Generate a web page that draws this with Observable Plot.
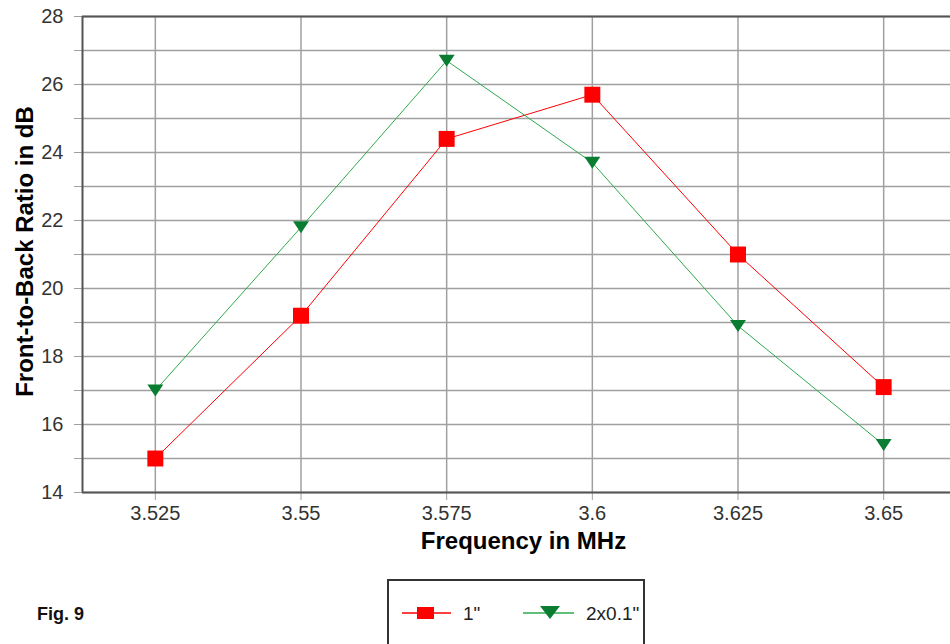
<!DOCTYPE html>
<html>
<head>
<meta charset="utf-8">
<script src="https://cdn.jsdelivr.net/npm/d3@7"></script>
<script src="https://cdn.jsdelivr.net/npm/@observablehq/plot@0.6"></script>
<style>
  html, body { margin: 0; padding: 0; background: #fff; overflow: hidden; }
  #wrap { width: 950px; height: 644px; position: relative; font-family: "Liberation Sans", Arial, sans-serif; }
  #below { position: relative; width: 950px; height: 84px; }
  #fig { position: absolute; left: 37px; top: 44px; font-weight: bold; font-size: 18px; color: #111; }
  #legend { position: absolute; left: 387px; top: 19px; width: 258px; height: 90px; border: 2px solid #333; box-sizing: border-box; }
</style>
</head>
<body>
<div id="wrap">
  <div id="chart"></div>
  <div id="below">
    <div id="fig">Fig. 9</div>
    <div id="legend"></div>
  </div>
</div>
<script>
const freqs = [3.525, 3.55, 3.575, 3.6, 3.625, 3.65];
const fb1 = [15.0, 19.2, 24.4, 25.7, 21.0, 17.1];   // 1"
const fb2 = [17.0, 21.8, 26.7, 23.7, 18.9, 15.4];   // 2x0.1"
const seriesNames = ['1"', '2x0.1"'];
const yTicks = d3.range(14, 29, 1);
const xDomain = [3.5125, 3.6625];
const yDomain = [14, 28];
const xTitle = "Frequency in MHz";
const yTitle = "Front-to-Back Ratio in dB";

const red = "#ff0000", greenLine = "#2eaa4c", greenMark = "#0a7d32";
const rows1 = freqs.map((f, i) => ({f, v: fb1[i]}));
const rows2 = freqs.map((f, i) => ({f, v: fb2[i]}));

const triDown = {
  draw(ctx, size) {
    const r = Math.sqrt(size / Math.PI);
    ctx.moveTo(-1.33 * r, -r);
    ctx.lineTo(1.33 * r, -r);
    ctx.lineTo(0, r);
    ctx.closePath();
  }
};

const chart = Plot.plot({
  width: 950,
  height: 560,
  marginLeft: 82,
  marginRight: 0,
  marginTop: 16,
  marginBottom: 68,
  style: {fontFamily: '"Liberation Sans", Arial, sans-serif', fontSize: "20px", background: "#fff", color: "#333"},
  x: {domain: xDomain, range: [82, 956]},
  y: {domain: yDomain},
  marks: [
    Plot.gridY(yTicks, {stroke: "#a0a0a0", strokeOpacity: 1, strokeWidth: 1.5}),
    Plot.gridX(freqs, {stroke: "#a0a0a0", strokeOpacity: 1, strokeWidth: 1.5}),
    Plot.axisY(yTicks, {tickSize: 8, tickPadding: 11, stroke: "#a0a0a0", fill: "#333", fontSize: 20,
      tickFormat: d => d % 2 === 0 ? String(d) : "", label: null}),
    Plot.axisX(freqs, {tickSize: 8, tickPadding: 5, stroke: "#a0a0a0", fill: "#333", fontSize: 20,
      tickFormat: d => String(d), label: null}),
    Plot.ruleY([yDomain[1]], {stroke: "#555", strokeWidth: 2}),
    Plot.ruleY([yDomain[0]], {stroke: "#555", strokeWidth: 2}),
    Plot.ruleX([xDomain[0]], {stroke: "#555", strokeWidth: 2}),
    Plot.line(rows1, {x: "f", y: "v", stroke: red, strokeWidth: 1}),
    Plot.line(rows2, {x: "f", y: "v", stroke: greenLine, strokeWidth: 1}),
    Plot.dot(rows1, {x: "f", y: "v", symbol: "square", r: 9, fill: red, stroke: "none"}),
    Plot.dot(rows2, {x: "f", y: "v", symbol: triDown, r: 6, fill: greenMark, stroke: "none"}),
    Plot.text([xTitle], {frameAnchor: "bottom", textAnchor: "middle", lineAnchor: "middle", dx: 7, dy: 49,
      fontSize: 24, fontWeight: "bold", fill: "#000"}),
    Plot.text([yTitle], {frameAnchor: "left", textAnchor: "middle", lineAnchor: "middle", rotate: -90, dx: -57, dy: -3,
      fontSize: 24, fontWeight: "bold", fill: "#000"})
  ]
});
document.getElementById("chart").appendChild(chart);

// Legend
const lg = d3.select("#legend").append("svg").attr("width", 254).attr("height", 60)
  .style("position", "absolute").style("left", 0).style("top", 0)
  .style("font-family", '"Liberation Sans", Arial, sans-serif');
const e1 = lg.append("g").attr("transform", "translate(13,32)");
e1.append("line").attr("x1", 0).attr("x2", 49).attr("stroke", red).attr("stroke-width", 1.5);
e1.append("rect").attr("x", 15).attr("y", -6).attr("width", 17).attr("height", 12).attr("fill", red);
e1.append("text").attr("x", 61).attr("y", 7).attr("font-size", 19).attr("fill", "#222").text(seriesNames[0]);
const e2 = lg.append("g").attr("transform", "translate(134,32)");
e2.append("line").attr("x1", 0).attr("x2", 51).attr("stroke", greenLine).attr("stroke-width", 1.5);
e2.append("path").attr("d", "M17,-7L37,-7L27,6Z").attr("fill", greenMark);
e2.append("text").attr("x", 63).attr("y", 7).attr("font-size", 19).attr("fill", "#222").text(seriesNames[1]);
</script>
</body>
</html>
